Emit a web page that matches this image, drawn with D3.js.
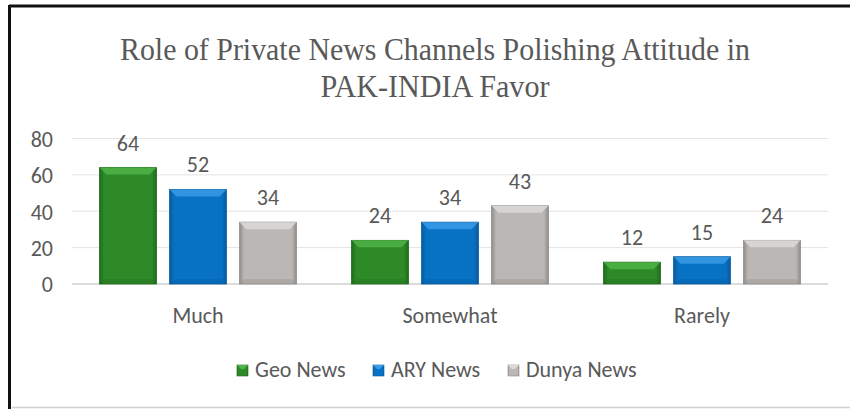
<!DOCTYPE html>
<html><head><meta charset="utf-8">
<script src="https://cdn.jsdelivr.net/npm/d3@7"></script>
<style>body{margin:0;background:#fff}svg{display:block}</style>
</head><body><svg id="c" width="850" height="409"></svg>
<script>
const categories = ["Much", "Somewhat", "Rarely"];
const seriesNames = ["Geo News", "ARY News", "Dunya News"];
const geoValues = [64, 24, 12];
const aryValues = [52, 34, 15];
const dunyaValues = [34, 43, 24];
const yTicks = [0, 20, 40, 60, 80];
const titleLines = ["Role of Private News Channels Polishing Attitude in", "PAK-INDIA Favor"];

const seriesValues = [geoValues, aryValues, dunyaValues];
const colors = [
  {base:"#2e8a27", light:"#4fb347", dark:"#1f6a1a"},
  {base:"#0771c4", light:"#3a9be6", dark:"#0a5a9a"},
  {base:"#bbb7b5", light:"#dcdad9", dark:"#8f8b89"}
];
const txt = "#595959";
const font = "Carlito, Lato, 'Open Sans', sans-serif";
const fs = 22;

const svg = d3.select("#c");
const defs = svg.append("defs");
colors.forEach((c,i)=>{
  const g = defs.append("linearGradient").attr("id","g"+i).attr("x1",0).attr("x2",1).attr("y1",0).attr("y2",0);
  g.append("stop").attr("offset",0).attr("stop-color",c.dark);
  g.append("stop").attr("offset",0.08).attr("stop-color",c.base);
  g.append("stop").attr("offset",0.92).attr("stop-color",c.base);
  g.append("stop").attr("offset",1).attr("stop-color",c.dark);
});

// frame
svg.append("line").attr("x1",9).attr("x2",850).attr("y1",6).attr("y2",6).attr("stroke","#111").attr("stroke-width",3);
svg.append("line").attr("x1",9.5).attr("x2",9.5).attr("y1",5).attr("y2",409).attr("stroke","#111").attr("stroke-width",3);
svg.append("line").attr("x1",12).attr("x2",850).attr("y1",407.5).attr("y2",407.5).attr("stroke","#d0d0d0").attr("stroke-width",1.5);

// title
const titleLen = [630, 229];
svg.append("g").selectAll("text").data(titleLines).join("text")
  .attr("x",435).attr("y",(d,i)=>60+i*37).attr("text-anchor","middle")
  .attr("font-family","'Liberation Serif','Times New Roman',serif").attr("font-size",32).attr("fill",txt)
  .attr("textLength",(d,i)=>titleLen[i]).attr("lengthAdjust","spacingAndGlyphs")
  .text(d=>d);

const x0 = d3.scaleBand().domain(categories).range([72,828]);
const x1 = d3.scaleBand().domain(seriesNames).range([0,x0.bandwidth()]).paddingInner(0.186).paddingOuter(0.393);
const y = d3.scaleLinear().domain([0,80]).range([284,138.5]);

// grid
svg.append("g").selectAll("line").data(yTicks).join("line")
  .attr("x1",72).attr("x2",828).attr("y1",d=>y(d)).attr("y2",d=>y(d))
  .attr("stroke",(d)=>d===0?"#d0d0d0":"#e3e3e3").attr("stroke-width",(d)=>d===0?1.5:1);

// y axis
const yAxis = d3.axisLeft(y).tickValues(yTicks).tickSize(0).tickPadding(0);
const ya = svg.append("g").attr("transform","translate(53,0)").call(yAxis);
ya.select(".domain").remove();
ya.selectAll("text").attr("font-family",font).attr("font-size",fs).attr("fill",txt).attr("dy","0.36em");

// x axis
const xAxis = d3.axisBottom(x0).tickSize(0).tickPadding(0);
const xa = svg.append("g").attr("transform","translate(0,323)").call(xAxis);
xa.select(".domain").remove();
xa.selectAll("text").attr("font-family",font).attr("font-size",fs).attr("fill",txt).attr("dy",0);

// bars
const data = [];
categories.forEach((c,ci)=>seriesNames.forEach((s,si)=>data.push({c,s,si,v:seriesValues[si][ci]})));
const bars = svg.append("g").selectAll("g").data(data).join("g")
  .attr("transform",d=>`translate(${x0(d.c)+x1(d.s)},0)`);
const bw = x1.bandwidth();
bars.append("rect").attr("x",0).attr("y",d=>y(d.v)).attr("width",bw).attr("height",d=>y(0)-y(d.v))
  .attr("fill",d=>`url(#g${d.si})`).attr("stroke",d=>colors[d.si].dark).attr("stroke-width",0.8);
bars.append("path").attr("d",d=>{
  const t=y(d.v), b=7;
  return `M0,${t}L${bw},${t}L${bw-b},${t+b}L${b},${t+b}Z`;
}).attr("fill",d=>colors[d.si].light).attr("opacity",0.85);
bars.append("path").attr("d",d=>{
  const bt=y(0), b=5;
  return `M0,${bt}L${bw},${bt}L${bw-b},${bt-b}L${b},${bt-b}Z`;
}).attr("fill",d=>colors[d.si].dark).attr("opacity",0.3);
// labels
svg.append("g").selectAll("text").data(data).join("text")
  .attr("x",d=>x0(d.c)+x1(d.s)+bw/2).attr("y",d=>y(d.v)-17)
  .attr("text-anchor","middle").attr("font-family",font).attr("font-size",fs).attr("fill",txt)
  .text(d=>d.v);

// legend
const legX = [237, 373, 508];
const lg = svg.append("g").selectAll("g").data(seriesNames).join("g")
  .attr("transform",(d,i)=>`translate(${legX[i]},365)`);
lg.append("rect").attr("width",11).attr("height",11).attr("fill",(d,i)=>`url(#g${i})`).attr("stroke",(d,i)=>colors[i].dark).attr("stroke-width",0.6);
lg.append("path").attr("d","M0,0L11,0L7,4L4,4Z").attr("fill",(d,i)=>colors[i].light);
lg.append("text").attr("x",18).attr("y",12).attr("font-family",font).attr("font-size",fs).attr("fill",txt).text(d=>d);
</script></body></html>
